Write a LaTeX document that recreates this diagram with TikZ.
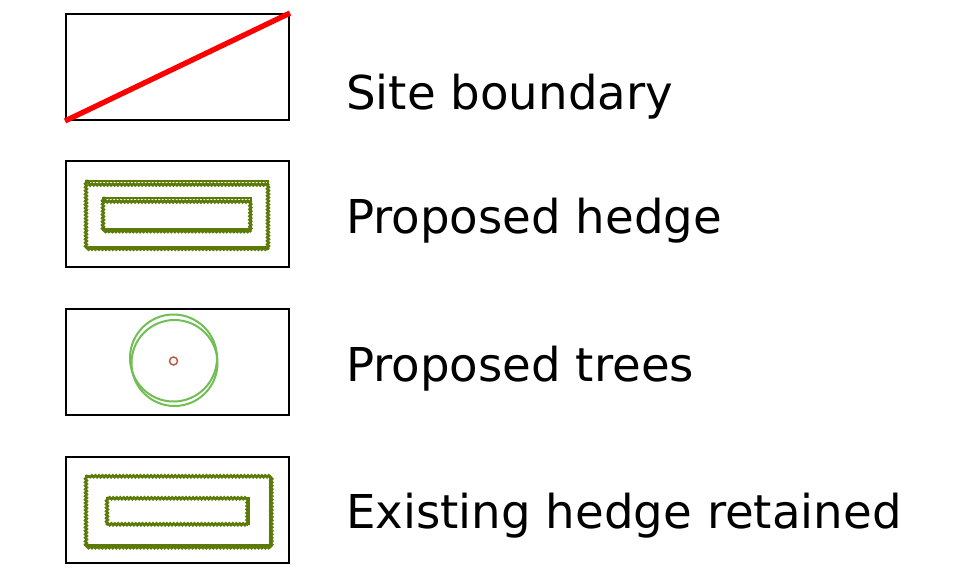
\documentclass[tikz,border=0pt]{standalone}
\usepackage{fontspec}
\setmainfont{DejaVu Sans}
\usetikzlibrary{positioning,decorations.pathmorphing}
\definecolor{hedgegreen}{RGB}{92,122,8}
\definecolor{treegreen}{RGB}{112,190,84}
\definecolor{trunkbrown}{RGB}{184,92,64}
\begin{document}
\begin{tikzpicture}[x=0.75pt,y=-0.75pt]
        \tikzset{KeyBox/.style={%
                shape=rectangle,%
                draw=black,%
                line width=1.4pt,%
                minimum width=167.25pt,%
                minimum height=79.5pt,%
                inner sep=0pt,%
            },
            KeyText/.style={%
                anchor=base west,%
                inner sep=0pt,%
                font=\fontsize{35}{42}\selectfont,%
            },
            HedgeBase/.style={%
                draw=hedgegreen,%
                line width=1.8pt,%
            },
            Hedge/.style={%
                draw=hedgegreen,%
                line width=2pt,%
                decorate,%
                decoration={snake,amplitude=0.6pt,segment length=2.6pt},%
            }}

        \useasboundingbox (0,0) rectangle (970,568);

        % key boxes
        \node[KeyBox] (boundary) at (177.5,67) {};
        \node[KeyBox] (newhedge) at (177.5,214) {};
        \node[KeyBox] (trees) at (177.5,362) {};
        \node[KeyBox] (oldhedge) at (177.5,510) {};

        % labels
        \node[KeyText] (boundarytxt) at (346,109) {Site boundary};
        \node[KeyText] (newhedgetxt) at (346,233) {Proposed hedge};
        \node[KeyText] (treestxt) at (346,381) {Proposed trees};
        \node[KeyText] (oldhedgetxt) at (346,528) {Existing hedge retained};

        % site boundary
        \draw[red,line width=4pt] (boundary.south west) -- (boundary.north east);

        % proposed hedge
        \draw[HedgeBase] (86,181) rectangle (268,247);
        \draw[Hedge] (86,181) rectangle (268,247);
        \draw[HedgeBase] (103,198) rectangle (251,229);
        \draw[Hedge] (103,198) rectangle (251,229);

        % proposed trees
        \draw[treegreen,line width=1.5pt] (173.5,358) circle (43.5);
        \draw[treegreen,line width=1.5pt] (174.5,363) circle (43);
        \draw[trunkbrown,line width=1.1pt] (173.5,361) circle (4);

        % existing hedge
        \draw[HedgeBase] (86,476) rectangle (270,545);
        \draw[Hedge] (86,476) rectangle (270,545);
        \draw[HedgeBase] (107,498) rectangle (249,524);
        \draw[Hedge] (107,498) rectangle (249,524);
\end{tikzpicture}
\end{document}
